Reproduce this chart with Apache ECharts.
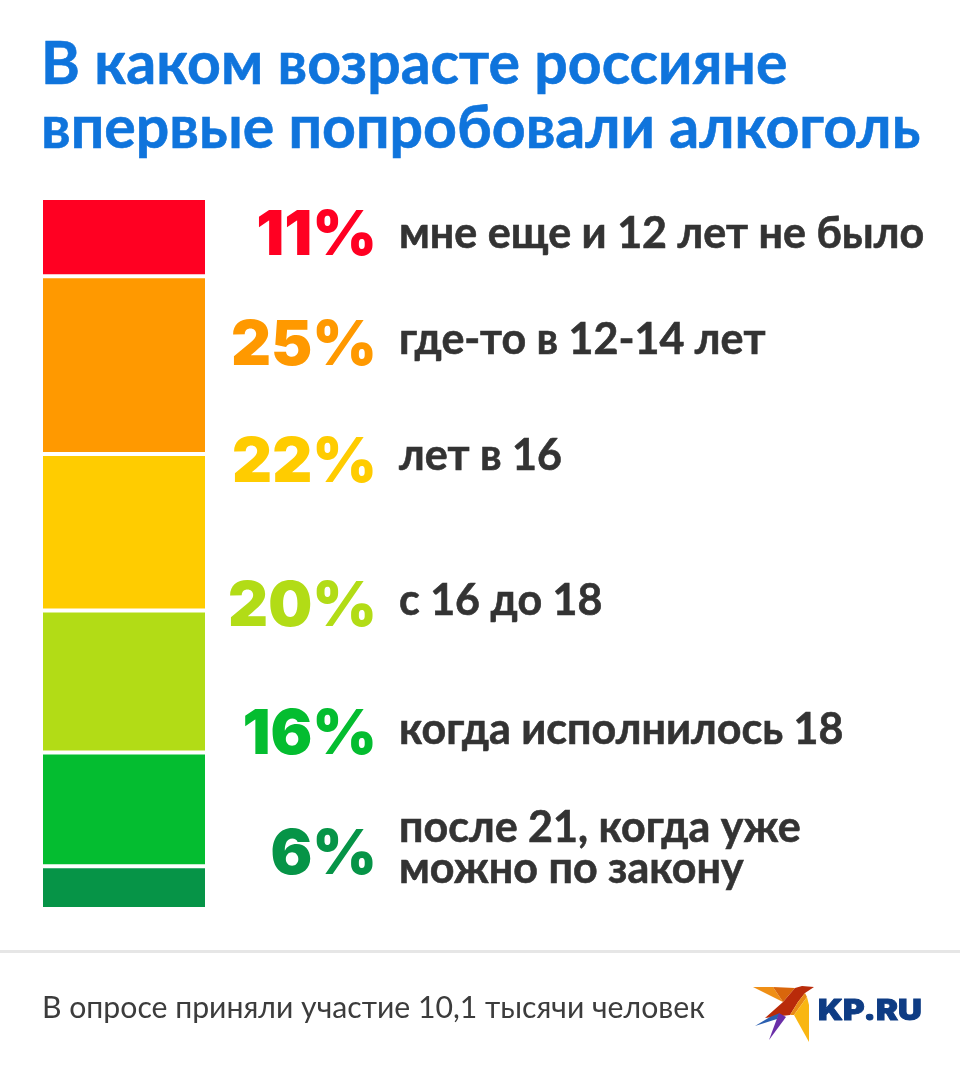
<!DOCTYPE html>
<html><head><meta charset="utf-8">
<style>html,body{margin:0;padding:0;background:#fff}#c{width:960px;height:1073px}</style>
<script src="https://cdn.jsdelivr.net/npm/echarts@6/dist/echarts.min.js"></script></head>
<body><div id="c"></div>
<script>
const titleLines = ['В каком возрасте россияне', 'впервые попробовали алкоголь'];
const values = [11, 25, 22, 20, 16, 6];
const labels = [['мне еще и 12 лет не было'], ['где-то в 12-14 лет'], ['лет в 16'], ['с 16 до 18'], ['когда исполнилось 18'], ['после 21, когда уже', 'можно по закону']];
const colors = ['#ff0022', '#ff9900', '#ffcc00', '#b2dc16', '#04bd30', '#069447'];
const rowY = [234, 340, 456, 601, 730, 828];
const pctY = [236, 346, 463, 607, 735, 855];
const footer = 'В опросе приняли участие 10,1 тысячи человек';
const brand = 'KP.RU';

const chart = echarts.init(document.getElementById('c'), null, {renderer: 'canvas'});
const g = [];
titleLines.forEach((t, i) => g.push({type: 'text', x: 41, y: 65 + i * 63.5, style: {text: t, font: 'bold 59px Lato', fill: '#0f74dc', stroke: '#0f74dc', lineWidth: 0.6, verticalAlign: 'middle'}}));
values.forEach((v, i) => {
  g.push({type: 'text', x: 377, y: pctY[i], style: {text: v + '%', font: '900 62px Inter', fill: colors[i], align: 'right', verticalAlign: 'middle'}});
  const ls = labels[i];
  ls.forEach((t, j) => g.push({type: 'text', x: 399, y: rowY[i] + j * 41, style: {text: t, font: 'bold 43px Lato', fill: '#333333', stroke: '#333333', lineWidth: 0.6, verticalAlign: 'middle'}}));
});
g.push({type: 'rect', shape: {x: 0, y: 950, width: 960, height: 3}, style: {fill: '#e6e6e6'}});
g.push({type: 'text', x: 42, y: 1008, style: {text: footer, font: '30.2px Lato', fill: '#3c3c3c', verticalAlign: 'middle'}});
[[['753,987','773,987','783,1002'], '#ef8f16'],
 [['773,987','795,988','783,1002'], '#d9660c'],
 [['795,988','802,986','814,987','805,993','798,1002','790,1015','765,1018','783,1002'], '#b92b0a'],
 [['805,993','807,997','794,1015','790,1015','798,1002'], '#e98a15'],
 [['807,997','809,1005','809,1042','794,1015'], '#f9b612'],
 [['755,1026','770,1017','780,1013','777,1019'], '#2a5fb0'],
 [['769,1040','779,1013','786,1017'], '#6a2fa8']].forEach(([pts, c]) => g.push({type: 'polygon', shape: {points: pts.map(p => p.split(',').map(Number))}, style: {fill: c}}));
g.push({type: 'text', x: 818, y: 1011, scaleY: 0.88, style: {text: brand, font: '900 33px Inter', fill: '#0e3c84', stroke: '#0e3c84', lineWidth: 1, verticalAlign: 'middle'}});

chart.setOption({
  animation: false,
  grid: {left: 41, top: 198, width: 166, height: 711},
  xAxis: {type: 'category', data: ['all'], show: false},
  yAxis: {type: 'value', min: 0, max: 100, inverse: true, show: false},
  series: values.map((v, i) => ({type: 'bar', stack: 'a', data: [v], barWidth: '100%', itemStyle: {color: colors[i], borderColor: '#fff', borderWidth: 2}})),
  graphic: g
});
</script></body></html>
